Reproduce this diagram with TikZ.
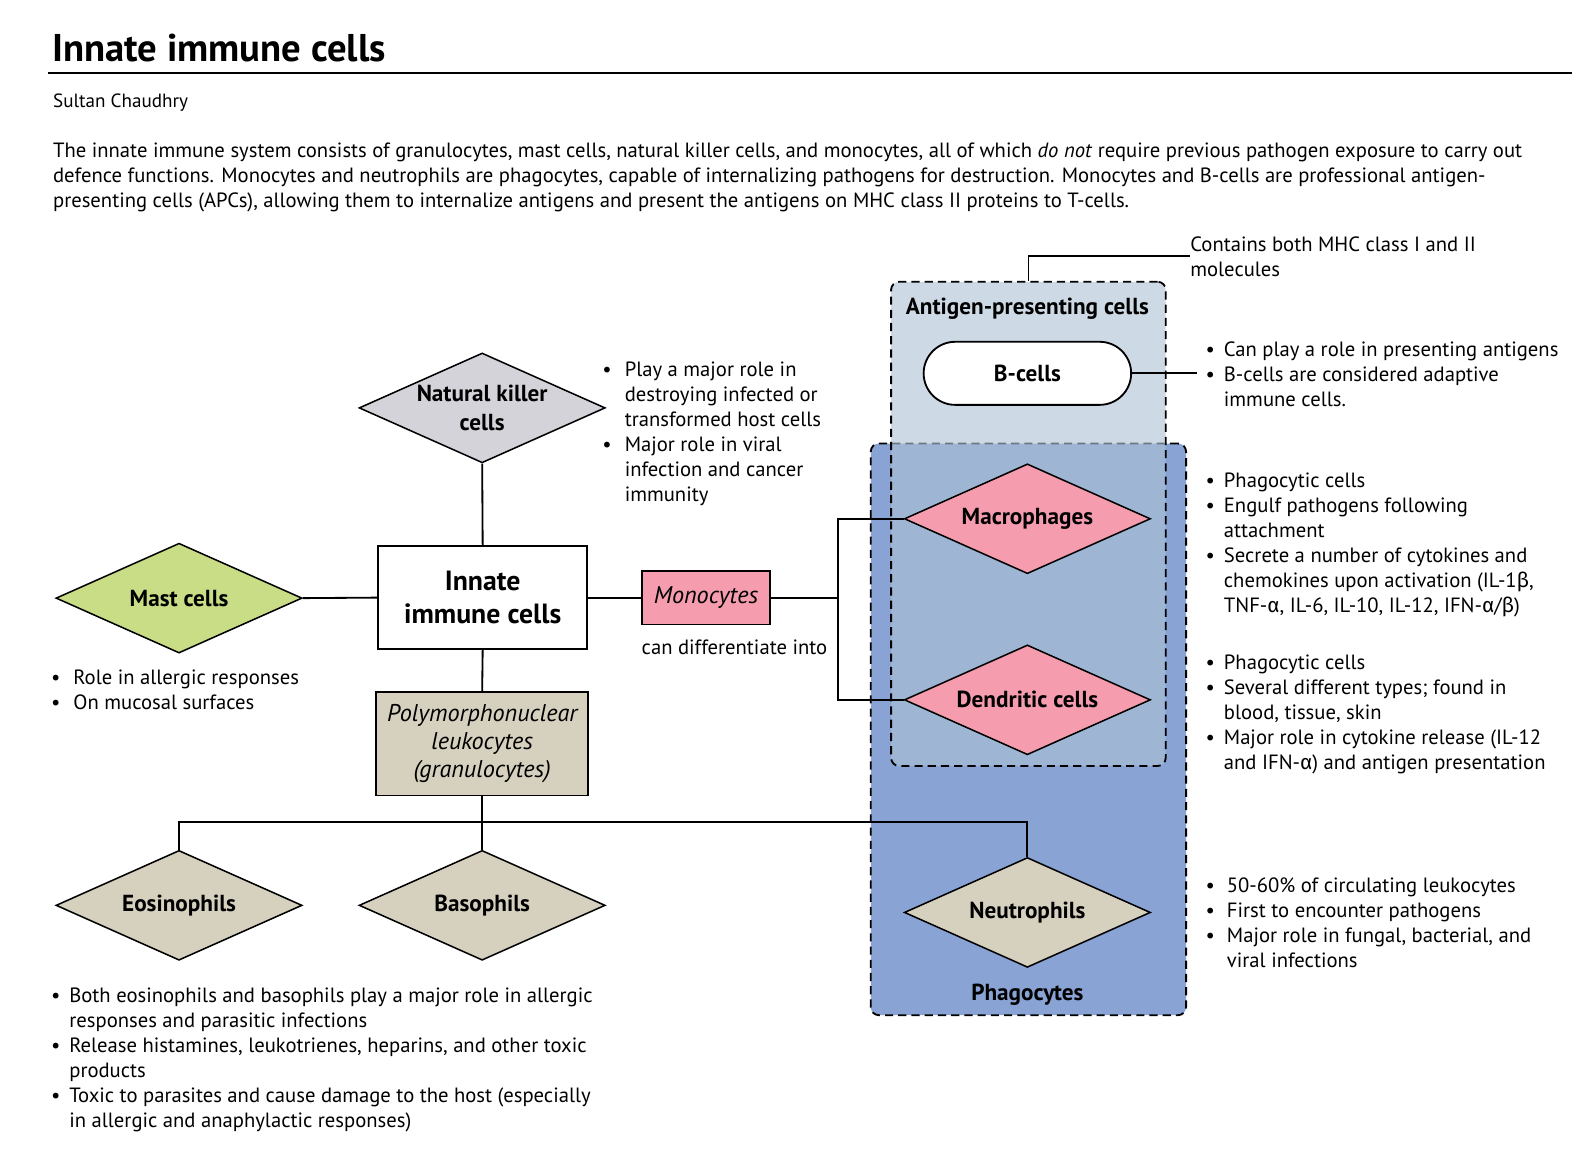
\documentclass[tikz,border=0pt]{standalone}
\usepackage{fontspec}
\setmainfont{PT Sans}
\newfontfamily\gk{Fira Sans}
\usetikzlibrary{shapes.geometric}
\definecolor{mastg}{RGB}{201,220,134}
\definecolor{pinkc}{RGB}{245,157,175}
\definecolor{tanc}{RGB}{214,209,190}
\definecolor{nkg}{RGB}{212,211,218}
\definecolor{phag}{RGB}{136,163,212}
\definecolor{apcc}{RGB}{174,193,213}
\newlength\bw
\newcommand\bi{\makebox[\bw][l]{\textbullet}}
\newcommand\ci{\hspace*{\bw}}
\newcommand\ga{{\gk α}}
\newcommand\gb{{\gk β}}
\newcommand\bodyfont{\fontsize{20.3}{24.5}\selectfont}
\tikzset{
  dia/.style={diamond, draw=black, line width=1.5pt, aspect=2.25, inner sep=0pt,
    minimum width=242pt, minimum height=108pt,
    font=\fontsize{22.8}{28}\selectfont\bfseries, align=center},
  conn/.style={line width=1.8pt},
  bx/.style={draw=black, line width=1.8pt, inner sep=0pt, align=center},
  grp/.style={draw=black, line width=1.8pt, dash pattern=on 8pt off 5pt, rounded corners=8pt, inner sep=0pt},
  note/.style={align=left, anchor=north west, inner sep=0pt},
  lbl/.style={font=\fontsize{22.8}{26}\selectfont\bfseries, inner sep=0pt},
}
\begin{document}
\begin{tikzpicture}[x=1pt,y=-1pt]
\useasboundingbox (0,0) rectangle (1568,1134.5);
% header
\node[anchor=base west, inner sep=0pt, font=\fontsize{38}{42}\selectfont\bfseries] (title) at (51,60) {Innate immune cells};
\draw[line width=2pt] (47,72) -- (1545,72);
\node[anchor=west, inner sep=0pt, font=\fontsize{18.8}{22}\selectfont] (author) at (52,101) {Sultan Chaudhry};
\node[note, font=\bodyfont] (intro) at (52,140) {The innate immune system consists of granulocytes, mast cells, natural killer cells, and monocytes, all of which \textit{do not} require previous pathogen exposure to carry out\\
defence functions. Monocytes and neutrophils are phagocytes, capable of internalizing pathogens for destruction. Monocytes and B-cells are professional antigen-\\
presenting cells (APCs), allowing them to internalize antigens and present the antigens on MHC class II proteins to T-cells.};
% groups
\node[grp, fill=phag, minimum width=310pt, minimum height=562pt] (phago) at (1011,717) {};
\node[grp, fill=apcc, fill opacity=0.62, minimum width=270pt, minimum height=476pt] (apc) at (1011,515) {};
\node[lbl] (apclbl) at (1010,303) {Antigen-presenting cells};
\node[lbl] (phlbl) at (1010,978) {Phagocytes};
% nodes
\node[bx, fill=white, rounded corners=31pt, minimum width=204pt, minimum height=62pt, font=\fontsize{22.8}{26}\selectfont\bfseries] (bcell) at (1010,367) {B-cells};
\node[dia, fill=pinkc] (macro) at (1010,510) {Macrophages};
\node[dia, fill=pinkc] (dend) at (1010,688) {Dendritic cells};
\node[dia, fill=tanc] (neut) at (1010,897) {Neutrophils};
\node[dia, fill=nkg] (nk) at (474,401) {Natural killer\\cells};
\node[dia, fill=mastg] (mast) at (176,588) {Mast cells};
\node[dia, fill=tanc] (eos) at (176,890) {Eosinophils};
\node[dia, fill=tanc] (baso) at (474,890) {Basophils};
\node[bx, fill=white, minimum width=205pt, minimum height=101pt, font=\fontsize{27.3}{32}\selectfont\bfseries] (innate) at (474.5,587.5) {Innate\\immune cells};
\node[bx, fill=pinkc, minimum width=126pt, minimum height=53pt, font=\fontsize{23.8}{26}\selectfont\itshape] (mono) at (694,587.5) {Monocytes};
\node[bx, fill=tanc, minimum width=208pt, minimum height=102pt, font=\fontsize{23.8}{28}\selectfont\itshape] (pmn) at (474,731) {Polymorphonuclear\\leukocytes\\(granulocytes)};
\node[inner sep=0pt, font=\fontsize{20.3}{24}\selectfont] (diff) at (722,636) {can differentiate into};
% notes
\node[note, font={\bodyfont\setlength\bw{22pt}}] (nknote) at (592,356) {\bi Play a major role in\\ \ci destroying infected or\\ \ci transformed host cells\\ \bi Major role in viral\\ \ci infection and cancer\\ \ci immunity};
\node[note, font={\bodyfont\setlength\bw{22pt}}] (mastnote) at (50,658) {\bi Role in allergic responses\\ \bi On mucosal surfaces};
\node[note, font={\bodyfont\setlength\bw{18pt}}] (eosnote) at (50,971) {\bi Both eosinophils and basophils play a major role in allergic\\ \ci responses and parasitic infections\\ \bi Release histamines, leukotrienes, heparins, and other toxic\\ \ci products\\ \bi Toxic to parasites and cause damage to the host (especially\\ \ci in allergic and anaphylactic responses)};
\node[note, font={\bodyfont\setlength\bw{18pt}}] (bnote) at (1185,336) {\bi Can play a role in presenting antigens\\ \bi B-cells are considered adaptive\\ \ci immune cells.};
\node[note, font={\bodyfont\setlength\bw{18pt}}] (macnote) at (1185,465) {\bi Phagocytic cells\\ \bi Engulf pathogens following\\ \ci attachment\\ \bi Secrete a number of cytokines and\\ \ci chemokines upon activation (IL-1\gb,\\ \ci TNF-\ga, IL-6, IL-10, IL-12, IFN-\ga/\gb)};
\node[note, font={\bodyfont\setlength\bw{18pt}}] (dendnote) at (1185,644) {\bi Phagocytic cells\\ \bi Several different types; found in\\ \ci blood, tissue, skin\\ \bi Major role in cytokine release (IL-12\\ \ci and IFN-\ga) and antigen presentation};
\node[note, font={\bodyfont\setlength\bw{21pt}}] (neutnote) at (1185,863) {\bi 50-60\% of circulating leukocytes\\ \bi First to encounter pathogens\\ \bi Major role in fungal, bacterial, and\\ \ci viral infections};
\node[anchor=west, align=left, inner sep=0pt, font=\bodyfont] (mhc) at (1170,252) {Contains both MHC class I and II\\molecules};
% connectors
\draw[conn] (apc.north) |- (mhc.west);
\draw[conn, shorten >=8pt] (bcell.east) -- (bnote.west |- bcell.east);
\draw[conn] (nk.south) -- (innate.north);
\draw[conn] (mast.east) -- (innate.west);
\draw[conn] (innate.east) -- (mono.west);
\draw[conn] (mono.east) -- ++(66,0) coordinate (mfork) |- (macro.west);
\draw[conn] (mfork) |- (dend.west);
\draw[conn] (innate.south) -- (pmn.north);
\coordinate (bar) at (474,808);
\draw[conn] (pmn.south) -- (bar) -- (baso.north);
\draw[conn] (eos.north) |- (bar) -| (neut.north);
\end{tikzpicture}
\end{document}
